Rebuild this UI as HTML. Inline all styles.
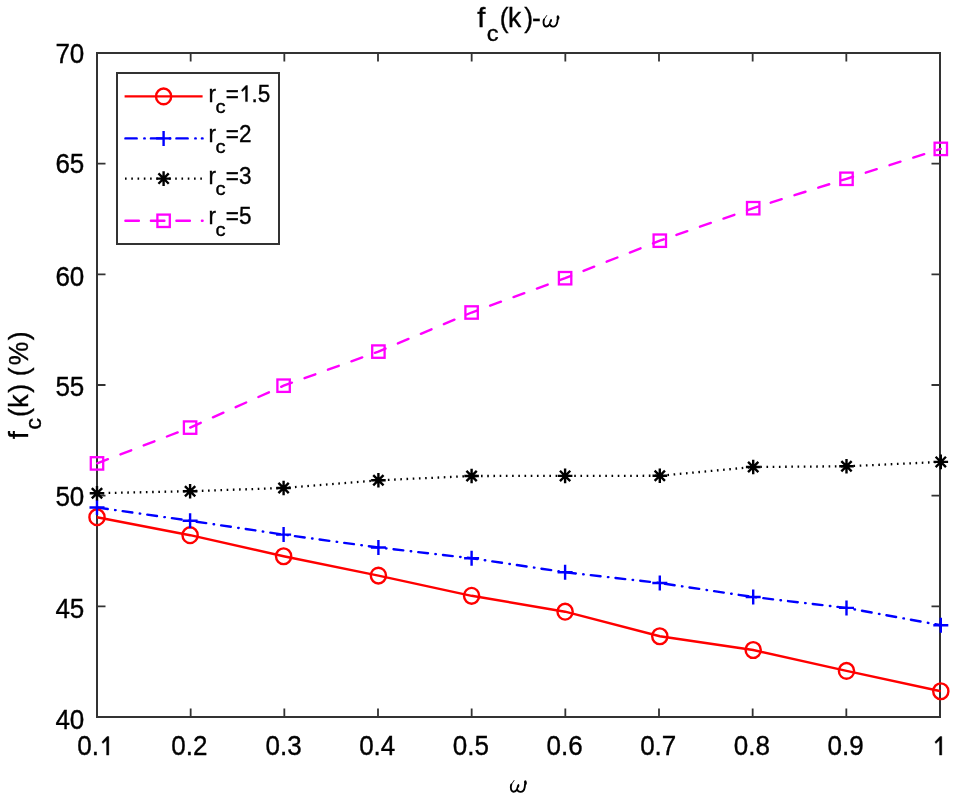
<!DOCTYPE html><html><head><meta charset="utf-8"><style>
html,body{margin:0;padding:0;background:#fff;width:955px;height:800px;overflow:hidden}
svg{display:block;will-change:transform}text{font-family:"Liberation Sans",sans-serif;fill:#000;stroke:#000;stroke-width:0.35px}
.w{font-family:"Liberation Serif",serif;font-style:italic}
</style></head><body>
<svg width="955" height="800" viewBox="0 0 955 800">
<rect width="955" height="800" fill="#fff"/>
<path d="M97.00 717.00V708.50M97.00 53.00V61.50M190.67 717.00V708.50M190.67 53.00V61.50M284.33 717.00V708.50M284.33 53.00V61.50M378.00 717.00V708.50M378.00 53.00V61.50M471.67 717.00V708.50M471.67 53.00V61.50M565.33 717.00V708.50M565.33 53.00V61.50M659.00 717.00V708.50M659.00 53.00V61.50M752.67 717.00V708.50M752.67 53.00V61.50M846.33 717.00V708.50M846.33 53.00V61.50M940.00 717.00V708.50M940.00 53.00V61.50M97.00 717.00H105.50M940.00 717.00H931.50M97.00 606.33H105.50M940.00 606.33H931.50M97.00 495.67H105.50M940.00 495.67H931.50M97.00 385.00H105.50M940.00 385.00H931.50M97.00 274.33H105.50M940.00 274.33H931.50M97.00 163.67H105.50M940.00 163.67H931.50M97.00 53.00H105.50M940.00 53.00H931.50" stroke="#333" stroke-width="1.8" fill="none"/>
<rect x="97.0" y="53.0" width="843.0" height="664.0" fill="none" stroke="#333" stroke-width="2"/>
<g>
<text transform="matrix(1.0 0 0 1.04 77.33 755.10)" font-size="26">0.</text><path transform="translate(99.01 755.10) scale(0.01270 -0.01320)" d="M595 0H775V1409H630L228 995L310 875L595 1130Z" stroke="#000" stroke-width="27.6"/>
<text transform="matrix(1.0 0 0 1.04 171.30 755.10)" font-size="26">0.2</text>
<text transform="matrix(1.0 0 0 1.04 265.46 755.10)" font-size="26">0.3</text>
<text transform="matrix(1.0 0 0 1.04 359.13 755.10)" font-size="26">0.4</text>
<text transform="matrix(1.0 0 0 1.04 452.80 755.10)" font-size="26">0.5</text>
<text transform="matrix(1.0 0 0 1.04 546.46 755.10)" font-size="26">0.6</text>
<text transform="matrix(1.0 0 0 1.04 640.13 755.10)" font-size="26">0.7</text>
<text transform="matrix(1.0 0 0 1.04 733.80 755.10)" font-size="26">0.8</text>
<text transform="matrix(1.0 0 0 1.04 827.46 755.10)" font-size="26">0.9</text>
<path transform="translate(931.97 755.10) scale(0.01270 -0.01320)" d="M595 0H775V1409H630L228 995L310 875L595 1130Z" stroke="#000" stroke-width="27.6"/>
<text transform="matrix(1.0 0 0 1.04 55.39 728.55)" font-size="26">40</text>
<text transform="matrix(1.0 0 0 1.04 55.39 618.25)" font-size="26">45</text>
<text transform="matrix(1.0 0 0 1.04 55.39 506.35)" font-size="26">50</text>
<text transform="matrix(1.0 0 0 1.04 55.39 395.85)" font-size="26">55</text>
<text transform="matrix(1.0 0 0 1.04 55.39 285.55)" font-size="26">60</text>
<text transform="matrix(1.0 0 0 1.04 55.39 173.45)" font-size="26">65</text>
<text transform="matrix(1.0 0 0 1.04 55.39 62.90)" font-size="26">70</text>
</g>
<g fill="none" stroke-width="2.4" stroke-linecap="round">
<polyline points="97.00,517.20 190.10,535.20 283.60,556.27 378.40,575.60 471.60,595.80 565.10,611.70 659.80,636.25 753.20,650.00 846.50,670.90 940.80,691.25" stroke="#f00" stroke-linecap="butt"/>
<polyline points="97.00,507.50 190.10,520.75 283.60,534.60 378.40,547.50 471.60,558.25 565.10,572.25 659.80,583.00 753.20,597.00 846.50,607.90 940.80,625.20" stroke="#00f" stroke-dasharray="9.8 7.45 0.5 7.12" stroke-dashoffset="-1.04"/>
<polyline points="97.00,493.20 190.10,491.20 283.60,488.00 378.40,480.30 471.60,476.00 565.10,475.90 659.80,475.75 753.20,467.00 846.50,466.30 940.80,461.90" stroke="#000" stroke-width="2.3" stroke-linecap="butt" stroke-dasharray="1.6 4.6146" stroke-dashoffset="0.8"/>
<polyline points="97.00,463.40 190.10,427.60 283.60,385.70 378.40,351.60 471.60,312.50 565.10,278.20 659.80,240.70 753.20,208.20 846.50,178.80 940.80,148.90" stroke="#f0f" stroke-dasharray="11.5 13.415" stroke-dashoffset="-0.2"/>
</g>
<g fill="none" stroke-width="2.4" stroke="#f00"><ellipse cx="97.00" cy="517.20" rx="7.6" ry="7.9"/><ellipse cx="190.10" cy="535.20" rx="7.6" ry="7.9"/><ellipse cx="283.60" cy="556.27" rx="7.6" ry="7.9"/><ellipse cx="378.40" cy="575.60" rx="7.6" ry="7.9"/><ellipse cx="471.60" cy="595.80" rx="7.6" ry="7.9"/><ellipse cx="565.10" cy="611.70" rx="7.6" ry="7.9"/><ellipse cx="659.80" cy="636.25" rx="7.6" ry="7.9"/><ellipse cx="753.20" cy="650.00" rx="7.6" ry="7.9"/><ellipse cx="846.50" cy="670.90" rx="7.6" ry="7.9"/><ellipse cx="940.80" cy="691.25" rx="7.6" ry="7.9"/></g>
<g fill="none" stroke-width="2.4" stroke="#00f"><path d="M89.50 507.50H104.50M97.00 500.00V515.00"/><path d="M182.60 520.75H197.60M190.10 513.25V528.25"/><path d="M276.10 534.60H291.10M283.60 527.10V542.10"/><path d="M370.90 547.50H385.90M378.40 540.00V555.00"/><path d="M464.10 558.25H479.10M471.60 550.75V565.75"/><path d="M557.60 572.25H572.60M565.10 564.75V579.75"/><path d="M652.30 583.00H667.30M659.80 575.50V590.50"/><path d="M745.70 597.00H760.70M753.20 589.50V604.50"/><path d="M839.00 607.90H854.00M846.50 600.40V615.40"/><path d="M933.30 625.20H948.30M940.80 617.70V632.70"/></g>
<g fill="none" stroke-width="2.4" stroke="#000"><path d="M89.70 493.20H104.30M97.00 485.90V500.50M91.84 488.04L102.16 498.36M91.84 498.36L102.16 488.04"/><path d="M182.80 491.20H197.40M190.10 483.90V498.50M184.94 486.04L195.26 496.36M184.94 496.36L195.26 486.04"/><path d="M276.30 488.00H290.90M283.60 480.70V495.30M278.44 482.84L288.76 493.16M278.44 493.16L288.76 482.84"/><path d="M371.10 480.30H385.70M378.40 473.00V487.60M373.24 475.14L383.56 485.46M373.24 485.46L383.56 475.14"/><path d="M464.30 476.00H478.90M471.60 468.70V483.30M466.44 470.84L476.76 481.16M466.44 481.16L476.76 470.84"/><path d="M557.80 475.90H572.40M565.10 468.60V483.20M559.94 470.74L570.26 481.06M559.94 481.06L570.26 470.74"/><path d="M652.50 475.75H667.10M659.80 468.45V483.05M654.64 470.59L664.96 480.91M654.64 480.91L664.96 470.59"/><path d="M745.90 467.00H760.50M753.20 459.70V474.30M748.04 461.84L758.36 472.16M748.04 472.16L758.36 461.84"/><path d="M839.20 466.30H853.80M846.50 459.00V473.60M841.34 461.14L851.66 471.46M841.34 471.46L851.66 461.14"/><path d="M933.50 461.90H948.10M940.80 454.60V469.20M935.64 456.74L945.96 467.06M935.64 467.06L945.96 456.74"/></g>
<g fill="none" stroke-width="2.3" stroke="#f0f"><rect x="90.80" y="457.20" width="12.40" height="12.40"/><rect x="183.90" y="421.40" width="12.40" height="12.40"/><rect x="277.40" y="379.50" width="12.40" height="12.40"/><rect x="372.20" y="345.40" width="12.40" height="12.40"/><rect x="465.40" y="306.30" width="12.40" height="12.40"/><rect x="558.90" y="272.00" width="12.40" height="12.40"/><rect x="653.60" y="234.50" width="12.40" height="12.40"/><rect x="747.00" y="202.00" width="12.40" height="12.40"/><rect x="840.30" y="172.60" width="12.40" height="12.40"/><rect x="934.60" y="142.70" width="12.40" height="12.40"/></g>
<rect x="117.0" y="73.0" width="162.00" height="171.00" fill="#fff" stroke="#333" stroke-width="2"/>
<g fill="none" stroke-width="2.4" stroke-linecap="round">
<path d="M124.6 96.4H202.6" stroke="#f00" stroke-linecap="butt"/>
<path d="M125.39999999999999 138.4H202.6" stroke="#00f" stroke-dasharray="11.3 7.55 0.5 6.15"/>
<path d="M124.6 178.6H202.6" stroke="#000" stroke-width="2.3" stroke-linecap="butt" stroke-dasharray="1.6 4.675" stroke-dashoffset="-0.4"/>
<path d="M125.39999999999999 220.8H202.6" stroke="#f0f" stroke-dasharray="13.5 12"/>
</g>
<g fill="none" stroke-width="2.4" stroke="#f00"><ellipse cx="163.60" cy="96.40" rx="7.6" ry="7.9"/></g>
<g fill="none" stroke-width="2.4" stroke="#00f"><path d="M156.10 138.40H171.10M163.60 130.90V145.90"/></g>
<g fill="none" stroke-width="2.4" stroke="#000"><path d="M156.30 178.60H170.90M163.60 171.30V185.90M158.44 173.44L168.76 183.76M158.44 183.76L168.76 173.44"/></g>
<g fill="none" stroke-width="2.3" stroke="#f0f"><rect x="157.40" y="214.60" width="12.40" height="12.40"/></g>
<text transform="matrix(1.0 0 0 1.04 208.50 101.60)" font-size="22.5">r</text>
<text transform="matrix(1.12 0 0 1.04 215.60 112.90)" font-size="18">c</text>
<text transform="matrix(1.0 0 0 1.04 225.80 101.60)" font-size="22.5">=</text><path transform="translate(238.94 101.60) scale(0.01099 -0.01143)" d="M595 0H775V1409H630L228 995L310 875L595 1130Z" stroke="#000" stroke-width="31.9"/><text transform="matrix(1.0 0 0 1.04 251.45 101.60)" font-size="22.5">.5</text>
<text transform="matrix(1.0 0 0 1.04 208.50 142.10)" font-size="22.5">r</text>
<text transform="matrix(1.12 0 0 1.04 215.60 153.40)" font-size="18">c</text>
<text transform="matrix(1.0 0 0 1.04 225.80 142.10)" font-size="22.5">=2</text>
<text transform="matrix(1.0 0 0 1.04 208.50 184.10)" font-size="22.5">r</text>
<text transform="matrix(1.12 0 0 1.04 215.60 195.40)" font-size="18">c</text>
<text transform="matrix(1.0 0 0 1.04 225.80 184.10)" font-size="22.5">=3</text>
<text transform="matrix(1.0 0 0 1.04 208.50 224.40)" font-size="22.5">r</text>
<text transform="matrix(1.12 0 0 1.04 215.60 235.70)" font-size="18">c</text>
<text transform="matrix(1.0 0 0 1.04 225.80 224.40)" font-size="22.5">=5</text>
<text transform="matrix(1.1 0 0 1.04 477.20 26.50)" font-size="26.5">f</text>
<text transform="matrix(1.1 0 0 1.04 486.80 40.80)" font-size="21.5">c</text>
<text transform="matrix(1 0 0 1.04 499.70 26.50)" font-size="26.5">(</text>
<text transform="matrix(1 0 0 1.04 507.90 26.50)" font-size="26.5">k</text>
<text transform="matrix(1 0 0 1.04 524.20 26.50)" font-size="26.5">)</text>
<text transform="matrix(1 0 0 1.04 532.10 26.50)" font-size="26.5">-</text>
<g transform="matrix(0.98 0 0 0.97 542.60 14.90)"><path d="M1.5 4.6C1.0 5.6 0.9 6.6 0.95 7.7C1.1 10.4 2.3 11.95 3.8 11.95C5.4 11.95 6.6 10.8 7.2 9.6C7.8 11.0 8.9 12.05 10.6 12.05C13.0 12.05 14.6 9.8 15.0 7.2L15.3 4.5" fill="none" stroke="#000" stroke-width="1.9" stroke-linecap="round" stroke-linejoin="round"/><path d="M1.6 4.4L4.2 0.6" fill="none" stroke="#000" stroke-width="0.9" stroke-linecap="round"/><path d="M7.2 9.6C7.3 8.2 7.8 6.5 8.6 5.0" fill="none" stroke="#000" stroke-width="1.5" stroke-linecap="round"/><ellipse cx="8.5" cy="6.3" rx="0.95" ry="1.7" transform="rotate(18 8.5 6.3)"/><ellipse cx="15.7" cy="2.7" rx="1.4" ry="2.4" transform="rotate(-8 15.7 2.7)"/></g>
<g transform="matrix(0.99 0 0 0.99 509.90 779.90)"><path d="M1.5 4.6C1.0 5.6 0.9 6.6 0.95 7.7C1.1 10.4 2.3 11.95 3.8 11.95C5.4 11.95 6.6 10.8 7.2 9.6C7.8 11.0 8.9 12.05 10.6 12.05C13.0 12.05 14.6 9.8 15.0 7.2L15.3 4.5" fill="none" stroke="#000" stroke-width="1.9" stroke-linecap="round" stroke-linejoin="round"/><path d="M1.6 4.4L4.2 0.6" fill="none" stroke="#000" stroke-width="0.9" stroke-linecap="round"/><path d="M7.2 9.6C7.3 8.2 7.8 6.5 8.6 5.0" fill="none" stroke="#000" stroke-width="1.5" stroke-linecap="round"/><ellipse cx="8.5" cy="6.3" rx="0.95" ry="1.7" transform="rotate(18 8.5 6.3)"/><ellipse cx="15.7" cy="2.7" rx="1.4" ry="2.4" transform="rotate(-8 15.7 2.7)"/></g>
<g transform="rotate(-90)">
<text transform="matrix(1.1 0 0 1.04 -439.37 27.80)" font-size="26.5">f</text>
<text transform="matrix(1.1 0 0 1.04 -429.70 41.30)" font-size="21.5">c</text>
<text transform="matrix(1 0 0 1.04 -417.04 27.80)" font-size="26.5">(</text>
<text transform="matrix(1 0 0 1.04 -407.78 27.80)" font-size="26.5">k</text>
<text transform="matrix(1 0 0 1.04 -392.76 27.80)" font-size="26.5">)</text>
<text transform="matrix(1 0 0 1.04 -376.24 27.80)" font-size="26.5">(</text>
<text transform="matrix(1 0 0 1.04 -365.35 27.80)" font-size="26.5">%</text>
<text transform="matrix(1 0 0 1.04 -340.16 27.80)" font-size="26.5">)</text>
</g>
</svg></body></html>
